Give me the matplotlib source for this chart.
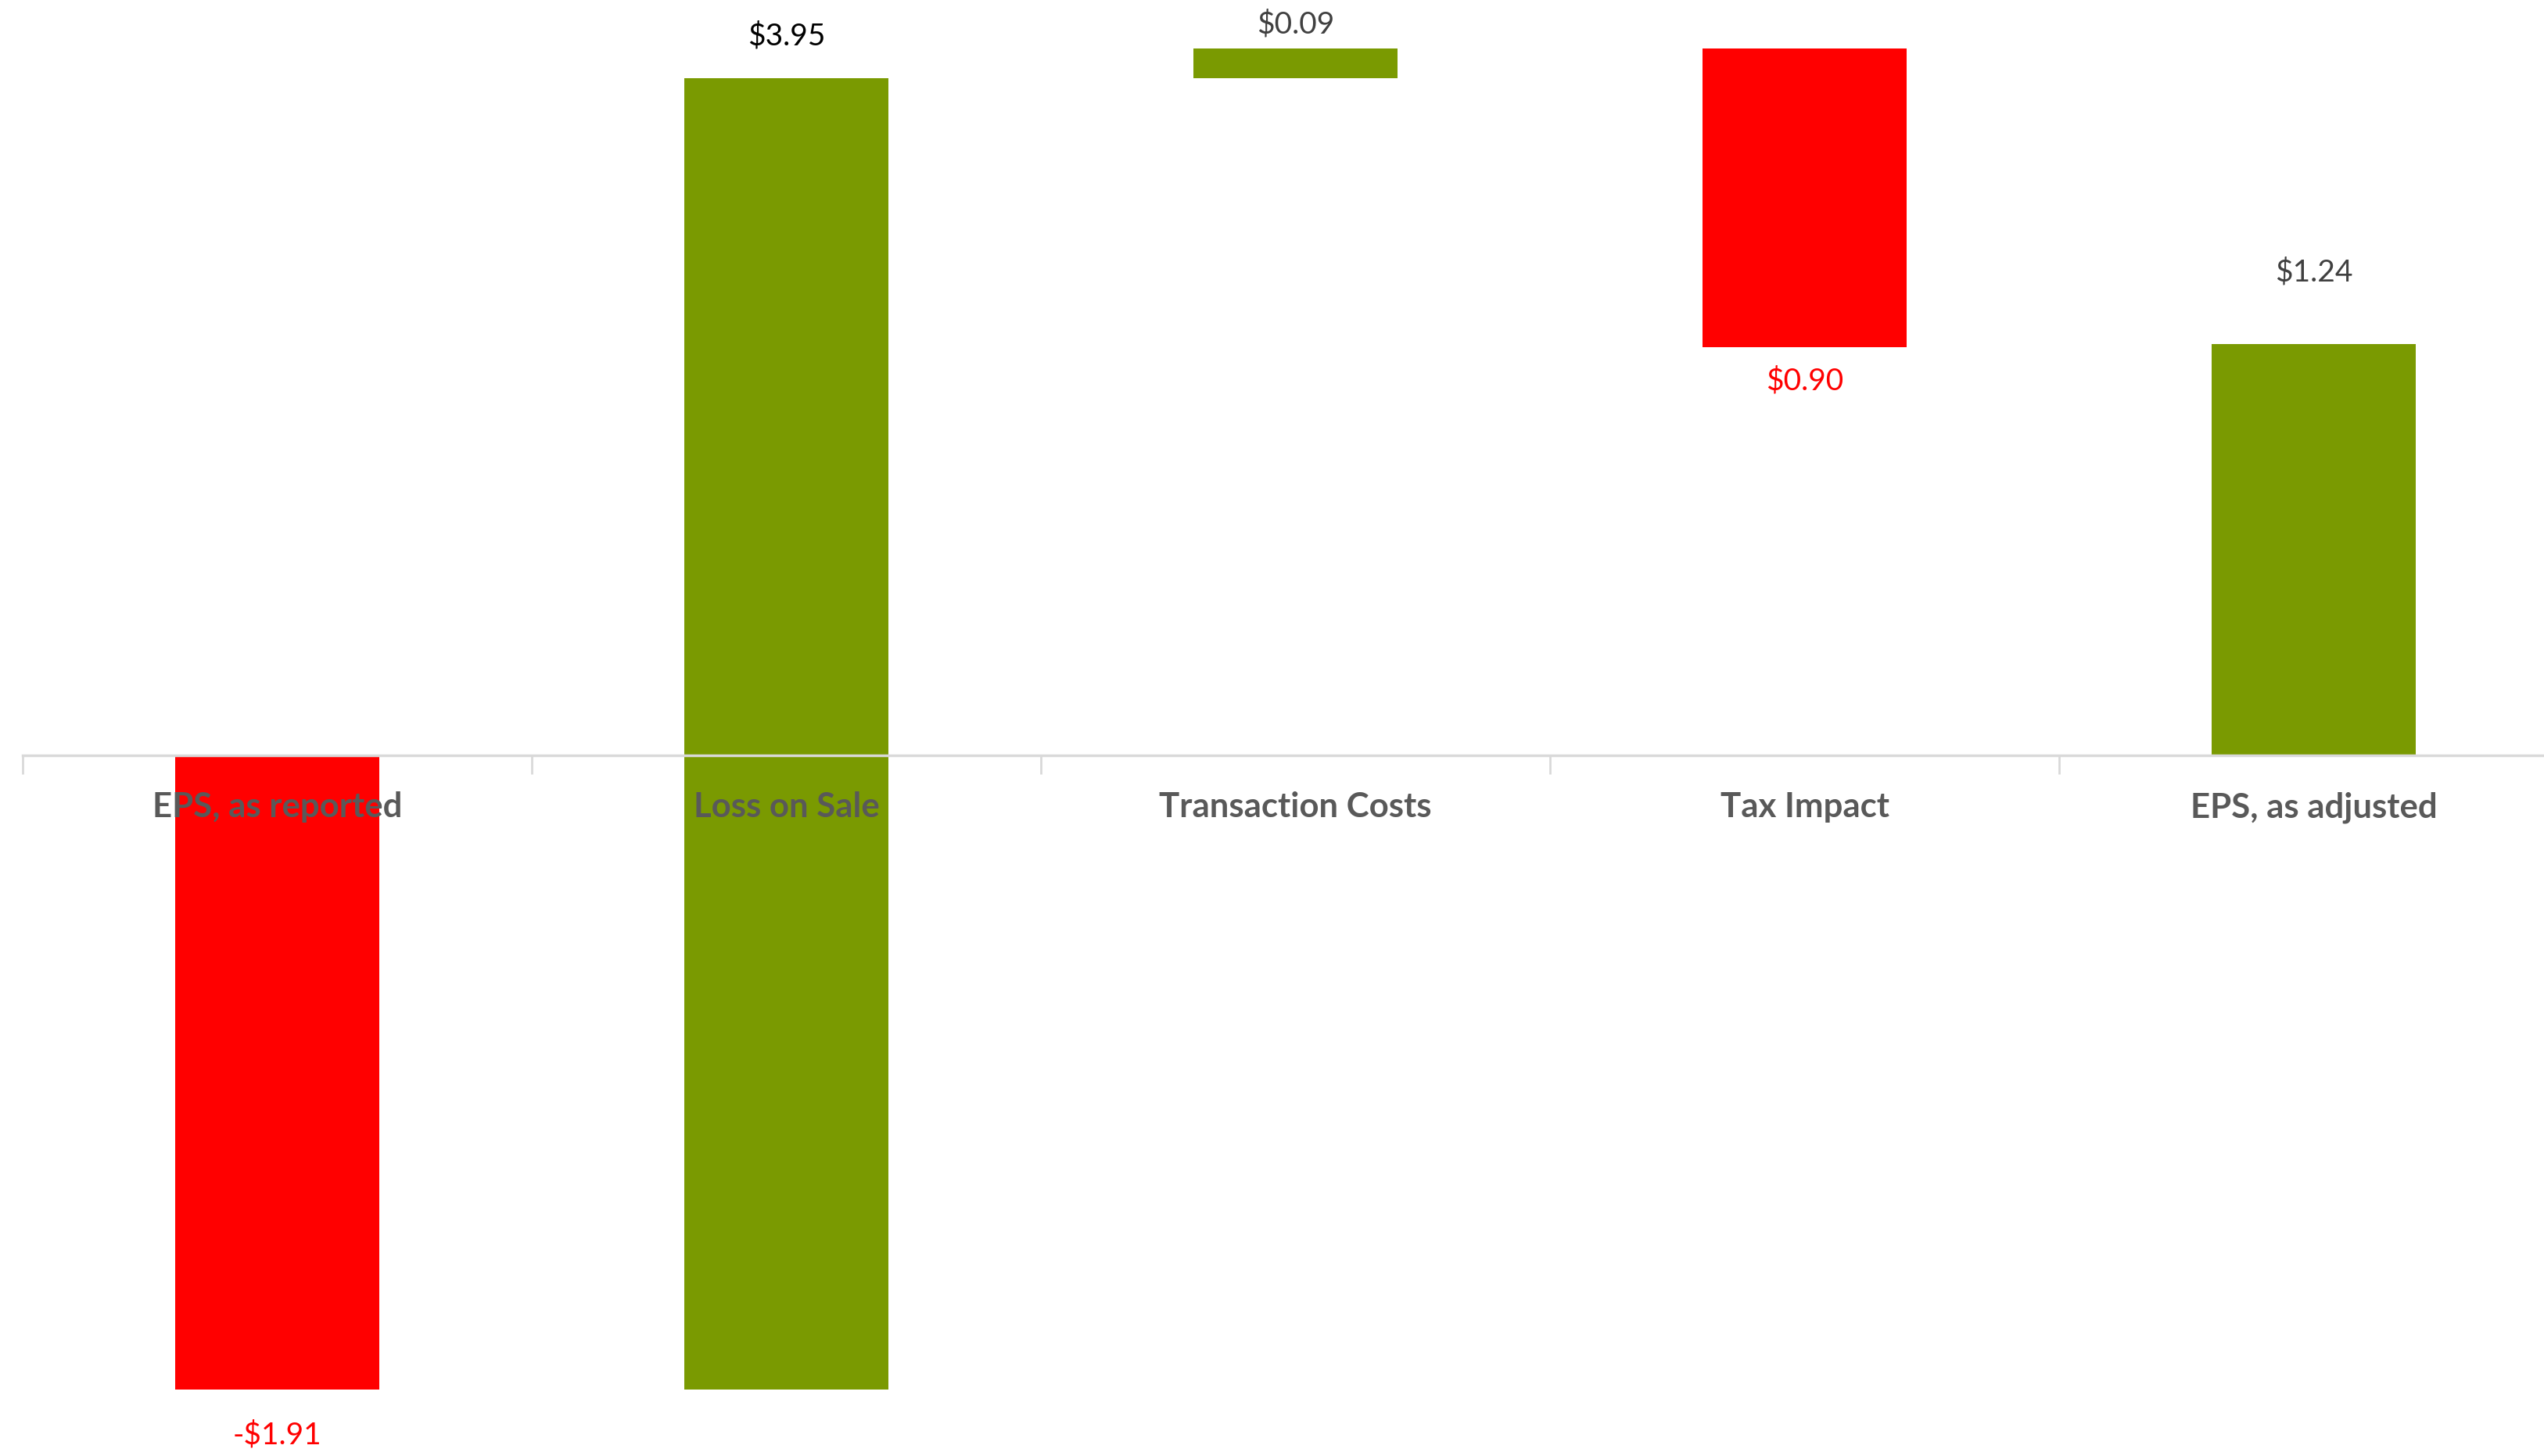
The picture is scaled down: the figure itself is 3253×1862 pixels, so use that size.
import matplotlib
matplotlib.use("Agg")
import matplotlib.pyplot as plt
import numpy as np

categories = ["EPS, as reported", "Loss on Sale", "Transaction Costs", "Tax Impact", "EPS, as adjusted"]
values = [-1.91, 3.95, 0.09, -0.90, 1.24]
labels = ["-$1.91", "$3.95", "$0.09", "$0.90", "$1.24"]
is_total = [True, False, False, False, True]
label_colors = ["#FF0000", "#000000", "#404040", "#FF0000", "#404040"]
label_offsets_pt = [42, 39, 22, 31, 66]

GREEN = "#7A9A01"
RED = "#FF0000"

W, H = 3253, 1862
fig = plt.figure(figsize=(W / 100, H / 100), dpi=100)
plt.rcParams['font.family'] = ['Lato', 'DejaVu Sans']

left = 29 / W
right = 3284 / W
ax = fig.add_axes([left, 0, right - left, 1])
ax.set_xlim(-0.5, 4.5)
ax.set_ylim(-2.11, 2.276)

bottoms = []
heights = []
running = 0.0
for v, tot in zip(values, is_total):
    if tot:
        bottoms.append(0.0)
        heights.append(v)
        running = v
    else:
        bottoms.append(running)
        heights.append(v)
        running += v

x = np.arange(len(categories))
colors = [GREEN if h > 0 else RED for h in heights]
ax.bar(x, heights, bottom=bottoms, width=0.40, color=colors, zorder=1)

for xi, b, h, lab, c, off in zip(x, bottoms, heights, labels, label_colors, label_offsets_pt):
    top = b + h
    dy = off if h >= 0 else -off
    ax.annotate(lab, (xi, top), xytext=(0, dy), textcoords="offset points",
                ha="center", va="center", color=c, fontsize=28)

for s in ["left", "right", "top"]:
    ax.spines[s].set_visible(False)
ax.spines["bottom"].set_position(("data", 0))
ax.spines["bottom"].set_color("#D9D9D9")
ax.spines["bottom"].set_linewidth(2.5)
ax.spines["bottom"].set_zorder(2)
ax.set_yticks([])
ax.set_xticks(x)
ax.set_xticklabels(categories, fontsize=31.5, fontweight="bold", color="#595959")
ax.tick_params(axis="x", which="major", length=0, pad=33)
ax.set_xticks(np.arange(-0.5, 5.0, 1.0), minor=True)
ax.tick_params(axis="x", which="minor", length=17, width=2, color="#D9D9D9", direction="out")

fig.savefig("out.png", dpi=100, facecolor="white")
